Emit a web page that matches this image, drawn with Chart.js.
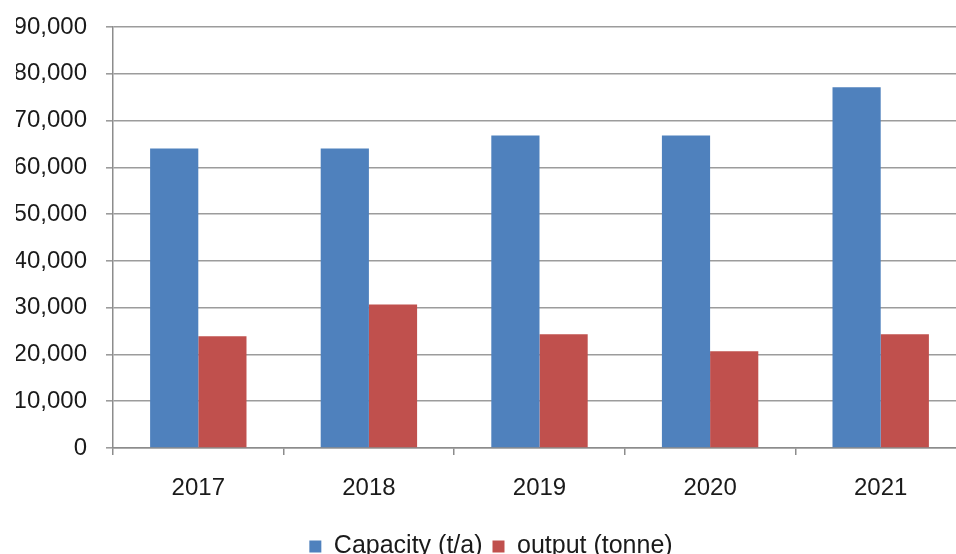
<!DOCTYPE html>
<html>
<head>
<meta charset="utf-8">
<script src="https://cdn.jsdelivr.net/npm/chart.js@4/dist/chart.umd.min.js"></script>
<style>
  html, body { margin: 0; padding: 0; overflow: hidden; background: #ffffff; width: 956px; height: 554px; }
  #wrap { position: absolute; left: 0; top: 0; width: 966px; height: 569px; }
</style>
</head>
<body>
<div id="wrap"><canvas id="c"></canvas></div>
<script>
const categories = ['2017', '2018', '2019', '2020', '2021'];
const capacity = [64000, 64000, 66800, 66800, 77100];
const output = [23900, 30700, 24300, 20700, 24300];
const seriesNames = ['Capacity (t/a)', 'output (tonne)'];
const yTickLabels = ['0', '10,000', '20,000', '30,000', '40,000', '50,000', '60,000', '70,000', '80,000', '90,000'];

const FONT = 'Liberation Sans, Arial, sans-serif';
const TEXT = '#1a1a1a';

new Chart(document.getElementById('c'), {
  type: 'bar',
  data: {
    labels: categories,
    datasets: [
      { label: seriesNames[0], data: capacity, backgroundColor: '#4F81BD', borderWidth: 0 },
      { label: seriesNames[1], data: output, backgroundColor: '#C0504D', borderWidth: 0 }
    ]
  },
  options: {
    responsive: true,
    maintainAspectRatio: false,
    animation: false,
    layout: { padding: { top: 27, right: 0, bottom: 0, left: 16 } },
    datasets: { bar: { categoryPercentage: 0.565, barPercentage: 1.0 } },
    plugins: {
      tooltip: { enabled: false },
      legend: {
        position: 'bottom',
        labels: {
          boxWidth: 12, boxHeight: 12, padding: 10,
          color: TEXT,
          font: { family: FONT, size: 25 }
        }
      }
    },
    scales: {
      x: {
        offset: true,
        grid: { display: true, drawOnChartArea: false, drawTicks: true, tickLength: 7, color: '#8c8c8c', lineWidth: 1.5, offset: true },
        border: { display: true, color: '#8c8c8c', width: 1.5 },
        ticks: { color: TEXT, font: { family: FONT, size: 24 }, padding: 19, maxRotation: 0 },
        afterFit: (s) => { s.height = 76; s.paddingLeft = 0; s.paddingRight = 0; }
      },
      y: {
        min: 0, max: 90000,
        grid: { color: '#9c9c9c', lineWidth: 1.6, drawTicks: true, tickLength: 7 },
        border: { display: true, color: '#8c8c8c', width: 1.5 },
        ticks: {
          stepSize: 10000,
          color: TEXT,
          font: { family: FONT, size: 24 },
          padding: 19,
          callback: (v, i) => yTickLabels[i]
        },
        afterFit: (s) => { s.width = 97; s.paddingTop = 0; s.paddingBottom = 0; }
      }
    }
  }
});
</script>
</body>
</html>
